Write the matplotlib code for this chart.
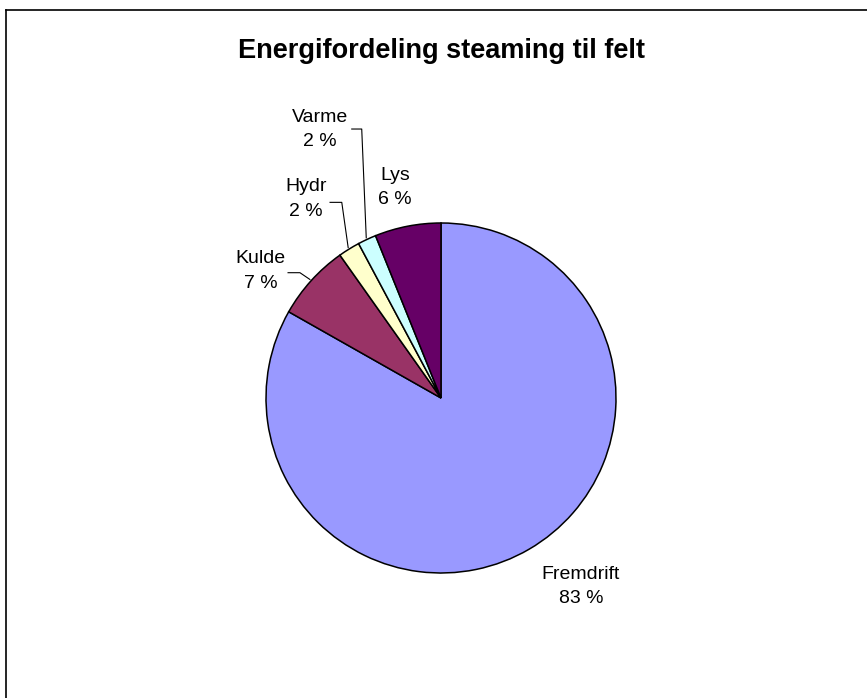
import numpy as np
import matplotlib.pyplot as plt
from matplotlib.lines import Line2D

# --- Dados ---
categorias = ['Fremdrift', 'Kulde', 'Hydr', 'Varme', 'Lys']
valores = [83.2, 7.0, 2.0, 1.7, 6.1]
rotulos_pct = ['83 %', '7 %', '2 %', '2 %', '6 %']
cores = ['#9999FF', '#993366', '#FFFFCC', '#CCFFFF', '#660066']

# posição dos rótulos (unidades do raio) e cotovelo da linha guia (None = sem linha)
pos_rotulos = [(0.80, -1.077), (-1.029, 0.726), (-0.771, 1.137), (-0.691, 1.534), (-0.263, 1.203)]
cotovelos = [None,
             [(-0.874, 0.716), (-0.806, 0.716)],
             [(-0.634, 1.118), (-0.567, 1.118)],
             [(-0.510, 1.537), (-0.453, 1.537)],
             None]

plt.rcParams['font.family'] = ['Liberation Sans', 'DejaVu Sans']

W, H, DPI = 867, 698, 100
cx, cy, R = 441, 398, 175

fig = plt.figure(figsize=(W / DPI, H / DPI), dpi=DPI)
ax = fig.add_axes([0, 0, 1, 1])

wedges, _ = ax.pie(valores, colors=cores, startangle=90, counterclock=False,
                   wedgeprops=dict(edgecolor='black', linewidth=1.1))

ax.set_xlim(-cx / R, (W - cx) / R)
ax.set_ylim(-(H - cy) / R, cy / R)
ax.set_aspect('auto')
ax.axis('off')

for w, nome, pct, pos, cot in zip(wedges, categorias, rotulos_pct, pos_rotulos, cotovelos):
    ax.text(pos[0], pos[1], f'{nome}\n{pct}', ha='center', va='center',
            fontsize=14, linespacing=1.55, color='black')
    if cot is not None:
        ang = np.deg2rad((w.theta1 + w.theta2) / 2)
        fim = (1.01 * np.cos(ang), 1.01 * np.sin(ang))
        xs = [cot[0][0], cot[1][0], fim[0]]
        ys = [cot[0][1], cot[1][1], fim[1]]
        ax.plot(xs, ys, color='black', linewidth=0.8)

fig.text(441 / W, 1 - 51 / H, 'Energifordeling steaming til felt', ha='center', va='center',
         fontsize=19.5, fontweight='bold')

# moldura do gráfico
fig.add_artist(Line2D([6 / W, 1], [1 - 10 / H, 1 - 10 / H], color='black', linewidth=1.2))
fig.add_artist(Line2D([6 / W, 6 / W], [0, 1 - 10 / H], color='black', linewidth=1.2))

fig.savefig('out.png', dpi=DPI)
